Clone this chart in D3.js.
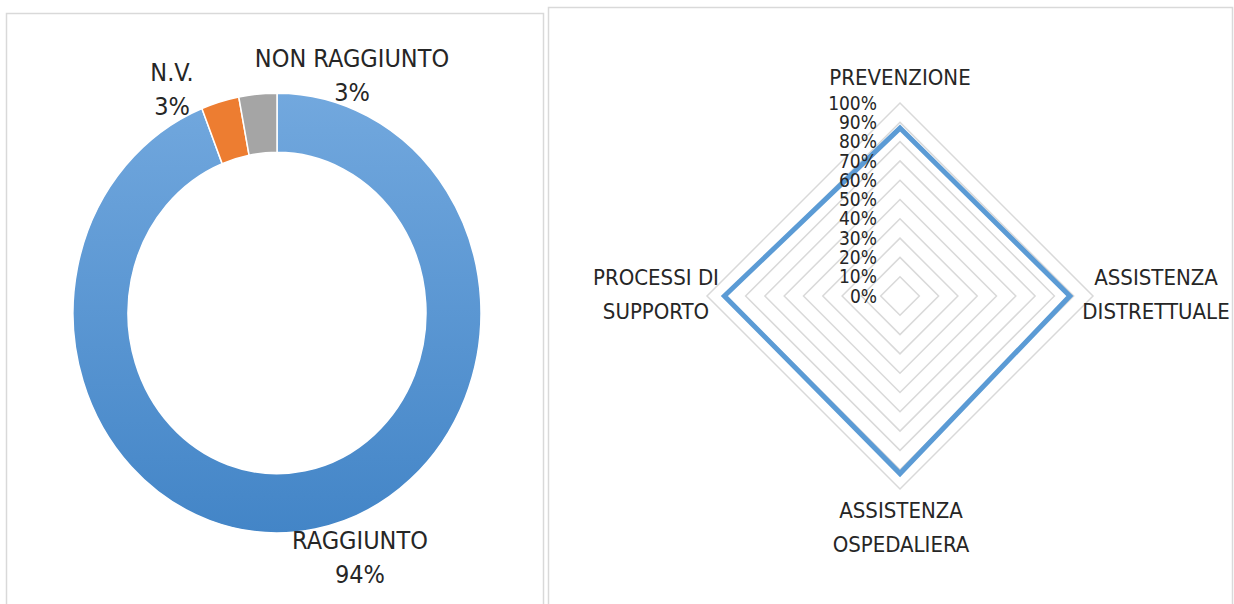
<!DOCTYPE html>
<html>
<head>
<meta charset="utf-8">
<script src="https://cdn.jsdelivr.net/npm/d3@7"></script>
<style>
  body { margin: 0; background: #fff; }
  svg { display: block; }
  text { font-family: "Liberation Sans Narrow", "Arial Narrow", "DejaVu Sans Condensed", sans-serif; fill: #262626; }
</style>
</head>
<body>
<script>
var width = 1234;
var height = 604;

// donut data
var esiti = ['RAGGIUNTO', 'N.V.', 'NON RAGGIUNTO'];
var esitiPct = [94, 3, 3];
var esitiColori = ['url(#blueGrad)', '#ed7d31', '#a5a5a5'];

// radar data
var aree = ['PREVENZIONE', 'ASSISTENZA DISTRETTUALE', 'ASSISTENZA OSPEDALIERA', 'PROCESSI DI SUPPORTO'];
var areeValori = [0.87, 0.88, 0.92, 0.91];
var tickLabels = ['0%', '10%', '20%', '30%', '40%', '50%', '60%', '70%', '80%', '90%', '100%'];

var svg = d3.select("body").append("svg")
  .attr("width", width)
  .attr("height", height);

var defs = svg.append("defs");
var grad = defs.append("linearGradient")
  .attr("id", "blueGrad")
  .attr("gradientUnits", "userSpaceOnUse")
  .attr("x1", 0).attr("y1", -204)
  .attr("x2", 0).attr("y2", 204);
grad.append("stop").attr("offset", "0%").attr("stop-color", "#72a8de");
grad.append("stop").attr("offset", "100%").attr("stop-color", "#4385c7");

// panel frames
svg.append("rect")
  .attr("x", 6.5).attr("y", 13.5)
  .attr("width", 537).attr("height", 610)
  .attr("fill", "#fff")
  .attr("stroke", "#d9d9d9").attr("stroke-width", 1.5);
svg.append("rect")
  .attr("x", 548.5).attr("y", 7.5)
  .attr("width", 684).attr("height", 620)
  .attr("fill", "#fff")
  .attr("stroke", "#d9d9d9").attr("stroke-width", 1.5);

// ---------- donut ----------
var pieData = esiti.map(function(d, i) { return {name: d, value: esitiPct[i], color: esitiColori[i]}; });
var pie = d3.pie().sort(null).value(function(d) { return d.value; });
var arc = d3.arc().innerRadius(149).outerRadius(204);

var donut = svg.append("g")
  .attr("transform", "translate(277,313) scale(1,1.078)");

donut.selectAll("path")
  .data(pie(pieData))
  .enter()
  .append("path")
  .attr("d", arc)
  .attr("fill", function(d) { return d.data.color; })
  .attr("stroke", "#fff")
  .attr("stroke-width", 1.5);

var donutLabels = [
  {x: 360, y: 540},
  {x: 172, y: 72},
  {x: 352, y: 58}
];
pieData.forEach(function(d, i) {
  var t = svg.append("text")
    .attr("x", donutLabels[i].x)
    .attr("y", donutLabels[i].y)
    .attr("text-anchor", "middle")
    .style("font-size", "25px");
  t.append("tspan").attr("x", donutLabels[i].x).attr("dy", "0.35em").text(d.name);
  t.append("tspan").attr("x", donutLabels[i].x).attr("dy", "1.38em").text(d.value + "%");
});

// ---------- radar ----------
var cx = 900, cy = 296;
var r = d3.scaleLinear().domain([0, 1]).range([0, 193]);
var angle = d3.scaleLinear().domain([0, aree.length]).range([0, 2 * Math.PI]);

function pt(i, v) {
  var a = angle(i);
  return [cx + r(v) * Math.sin(a), cy - r(v) * Math.cos(a)];
}

var radar = svg.append("g");
var levels = d3.range(1, 11).map(function(d) { return d / 10; });
radar.selectAll(".grid")
  .data(levels)
  .enter()
  .append("polygon")
  .attr("class", "grid")
  .attr("points", function(v) {
    return aree.map(function(a, i) { return pt(i, v).join(","); }).join(" ");
  })
  .attr("fill", "none")
  .attr("stroke", "#d9d9d9")
  .attr("stroke-width", 1.5);

radar.append("polygon")
  .attr("points", areeValori.map(function(v, i) { return pt(i, v).join(","); }).join(" "))
  .attr("fill", "none")
  .attr("stroke", "#5b9bd5")
  .attr("stroke-width", 5)
  .attr("stroke-linejoin", "miter");

// axis labels along the vertical spoke
radar.selectAll(".tick")
  .data(tickLabels)
  .enter()
  .append("text")
  .attr("class", "tick")
  .attr("x", cx - 23)
  .attr("y", function(d, i) { return cy - r(i / 10); })
  .attr("dy", "0.35em")
  .attr("text-anchor", "end")
  .style("font-size", "19px")
  .text(function(d) { return d; });

var areaLabels = [
  {x: 900, y: 77, lines: ['PREVENZIONE']},
  {x: 1156, y: 277, lines: ['ASSISTENZA', 'DISTRETTUALE']},
  {x: 901, y: 510, lines: ['ASSISTENZA', 'OSPEDALIERA']},
  {x: 656, y: 277, lines: ['PROCESSI DI', 'SUPPORTO']}
];
areaLabels.forEach(function(l) {
  var t = radar.append("text")
    .attr("x", l.x).attr("y", l.y)
    .attr("text-anchor", "middle")
    .style("font-size", "22px");
  l.lines.forEach(function(s, k) {
    t.append("tspan")
      .attr("x", l.x)
      .attr("dy", k == 0 ? "0.35em" : "1.55em")
      .text(s);
  });
});
</script>
</body>
</html>
